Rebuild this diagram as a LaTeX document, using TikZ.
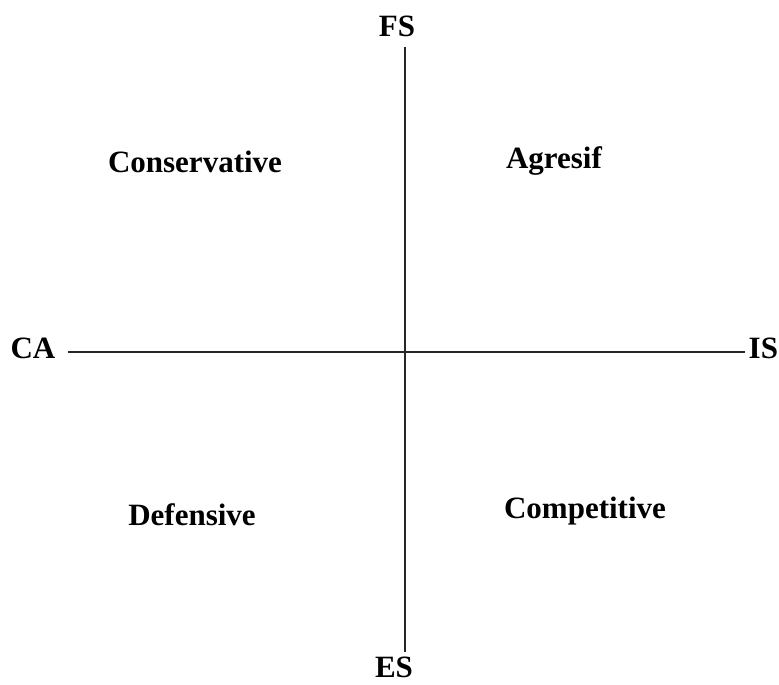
\documentclass[tikz,border=0pt]{standalone}
\usepackage{fontspec}
\setmainfont{Liberation Serif}
\begin{document}
\begin{tikzpicture}[x=1pt,y=-1pt,
  lbl/.style={font=\fontsize{31}{36}\selectfont\bfseries, anchor=base, inner sep=0pt},
  axis/.style={line width=1.5pt, draw=black!85}]
\useasboundingbox (0,0) rectangle (779,685);
\coordinate (top) at (405,47);
\coordinate (bot) at (405,652);
\coordinate (lft) at (68,352);
\coordinate (rgt) at (745,352);
\draw[axis] (top) -- (bot);
\draw[axis] (lft) -- (rgt);
\node[lbl] (FS) at (397,37) {FS};
\node[lbl] (ES) at (394,677) {ES};
\node[lbl] (CA) at (33,358) {CA};
\node[lbl, anchor=base west] (IS) at (748.5,358) {IS};
\node[lbl] (cons) at (195,172) {Conservative};
\node[lbl] (agr) at (554,168) {Agresif};
\node[lbl] (def) at (192,525) {Defensive};
\node[lbl] (comp) at (585,518) {Competitive};
\end{tikzpicture}
\end{document}
